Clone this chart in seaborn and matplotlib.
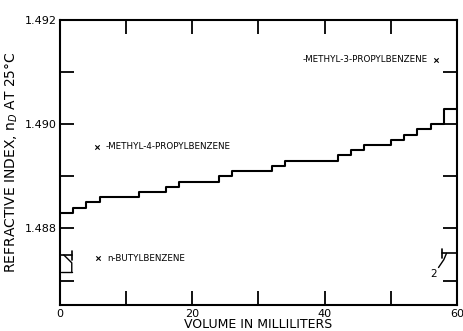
import matplotlib
matplotlib.use("Agg")
import matplotlib.pyplot as plt
import seaborn as sns
import pandas as pd

# Refractive index of successive distillate fractions
volume_ml = [0, 2, 4, 6, 12, 16, 18, 24, 26, 32, 34, 42, 44, 46, 50, 52, 54, 56, 58, 60]
refr_index = [1.4883, 1.4884, 1.4885, 1.4886, 1.4887, 1.4888, 1.4889, 1.4890, 1.4891,
              1.4892, 1.4893, 1.4894, 1.4895, 1.4896, 1.4897, 1.4898, 1.4899, 1.4900,
              1.4903, 1.4903]

# Reference compounds (marker position and label)
ref_names = ["-METHYL-4-PROPYLBENZENE", "n-BUTYLBENZENE", "-METHYL-3-PROPYLBENZENE"]
ref_x = [5.6, 5.8, 56.8]
ref_y = [1.48957, 1.48743, 1.49124]

x_ticks = [0, 20, 40, 60]
y_ticks = [1.488, 1.490, 1.492]
y_tick_labels = ["1.488", "1.490", "1.492"]

sns.set_style("ticks")
plt.rcParams["font.family"] = ["DejaVu Sans"]
plt.rcParams.update({"text.color": "black", "axes.labelcolor": "black",
                     "xtick.color": "black", "ytick.color": "black"})

fig = plt.figure(figsize=(4.64, 3.31), dpi=100)
ax = fig.add_axes([0.129, 0.0785, 0.856, 0.8611])

df = pd.DataFrame({"volume": volume_ml, "index": refr_index})
sns.lineplot(data=df, x="volume", y="index", ax=ax, drawstyle="steps-post",
             color="black", linewidth=1.5)

ax.set_xlim(0, 60)
ax.set_ylim(1.48653, 1.492)

ax.set_xticks(x_ticks)
ax.set_xticks(range(0, 61, 10), minor=True)
ax.set_yticks(y_ticks)
ax.set_yticklabels(y_tick_labels)
ax.set_yticks([1.487, 1.488, 1.489, 1.490, 1.491], minor=True)
ax.tick_params(which="both", direction="in", length=10, width=1.3,
               top=True, right=True, labelsize=8, pad=3,
               color="black", labelcolor="black")
ax.tick_params(axis="y", which="both", pad=2)
for s in ax.spines.values():
    s.set_linewidth(1.5)
    s.set_color("black")

ax.set_xlabel("VOLUME IN MILLILITERS", fontsize=9, labelpad=-1, color="black")
ax.set_ylabel("REFRACTIVE INDEX, n$_D$ AT 25°C", fontsize=10, labelpad=4, color="black")

# Reference compound markers and names
ax.scatter(ref_x, ref_y, marker="x", s=10, color="black", linewidths=0.8, zorder=3)
ax.text(ref_x[0] + 1.3, ref_y[0], ref_names[0], fontsize=6.3, va="center", ha="left")
ax.text(ref_x[1] + 1.3, ref_y[1], ref_names[1], fontsize=6.3, va="center", ha="left")
ax.text(ref_x[2] - 1.3, ref_y[2], ref_names[2], fontsize=6.3, va="center", ha="right")

# Fraction brackets at the start and end of the run
ax.plot([0.2, 1.9], [1.48749, 1.48749], color="black", lw=1.2)
ax.plot([1.9, 1.9], [1.48740, 1.48757], color="black", lw=1.2)
ax.plot([0.6, 1.8, 1.8], [1.48749, 1.48734, 1.48716], color="black", lw=1.0)
ax.plot([0.2, 1.9], [1.48716, 1.48716], color="black", lw=1.0)

ax.plot([57.8, 59.8], [1.48752, 1.48752], color="black", lw=1.2)
ax.plot([57.8, 57.8], [1.48744, 1.48760], color="black", lw=1.2)
ax.plot([58.4, 58.0, 57.2], [1.48752, 1.48740, 1.48725], color="black", lw=1.0)
ax.text(57.0, 1.48712, "2", fontsize=7.5, ha="right", va="center")

fig.savefig("out.png", dpi=100)
